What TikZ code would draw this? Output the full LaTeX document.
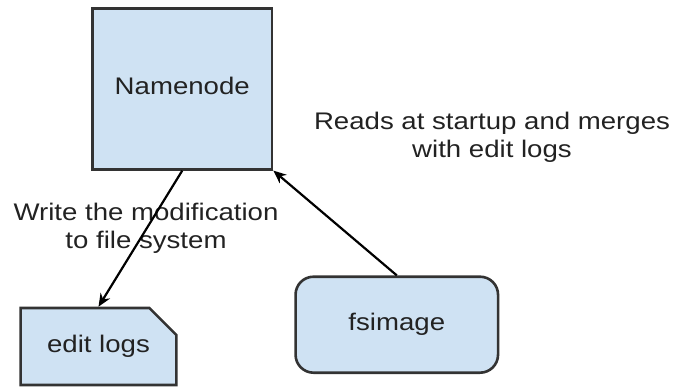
\documentclass[tikz,border=0pt]{standalone}
\usepackage{fontspec}
\setmainfont{Liberation Sans}
\usetikzlibrary{shapes.misc,arrows.meta}
\definecolor{boxfill}{HTML}{CFE2F3}
\definecolor{boxline}{HTML}{333333}
\definecolor{txt}{HTML}{222222}
\newcommand{\stretchtext}[1]{\scalebox{1.15}[1]{\begin{tabular}{@{}c@{}}#1\end{tabular}}}
\begin{document}
\begin{tikzpicture}[x=1pt,y=-1pt,
  every node/.style={font=\fontsize{24}{28}\selectfont, text=txt},
  boxstyle/.style={draw=boxline, fill=boxfill, line width=2.6pt, inner sep=0pt},
  conn/.style={line width=2.2pt, -{Stealth[length=13pt,width=11pt]}}]
\useasboundingbox (0,0) rectangle (674,387);
\node[boxstyle, rectangle, minimum width=179.5pt, minimum height=161pt] (nn) at (182.25,88.8) {\stretchtext{Namenode}};
\node[boxstyle, chamfered rectangle, chamfered rectangle corners=north east,
  chamfered rectangle xsep=13pt, chamfered rectangle ysep=14pt,
  minimum width=155.7pt, minimum height=77pt] (el) at (98.5,346.5) {\raisebox{-3pt}{\stretchtext{edit logs}}};
\node[boxstyle, rectangle, rounded corners=18pt, minimum width=202.5pt, minimum height=96pt] (fs) at (396.8,324.7) {\stretchtext{fsimage}};
\node[inner sep=0pt] (rd) at (492,138) {\stretchtext{Reads at startup and merges\\with edit logs}};
\node[inner sep=0pt] (wr) at (146,228.5) {\stretchtext{Write the modification\\to file system}};
\draw[conn] (nn.south) -- (el.north);
\draw[conn] (fs.north) -- (nn.south east);
\end{tikzpicture}
\end{document}
